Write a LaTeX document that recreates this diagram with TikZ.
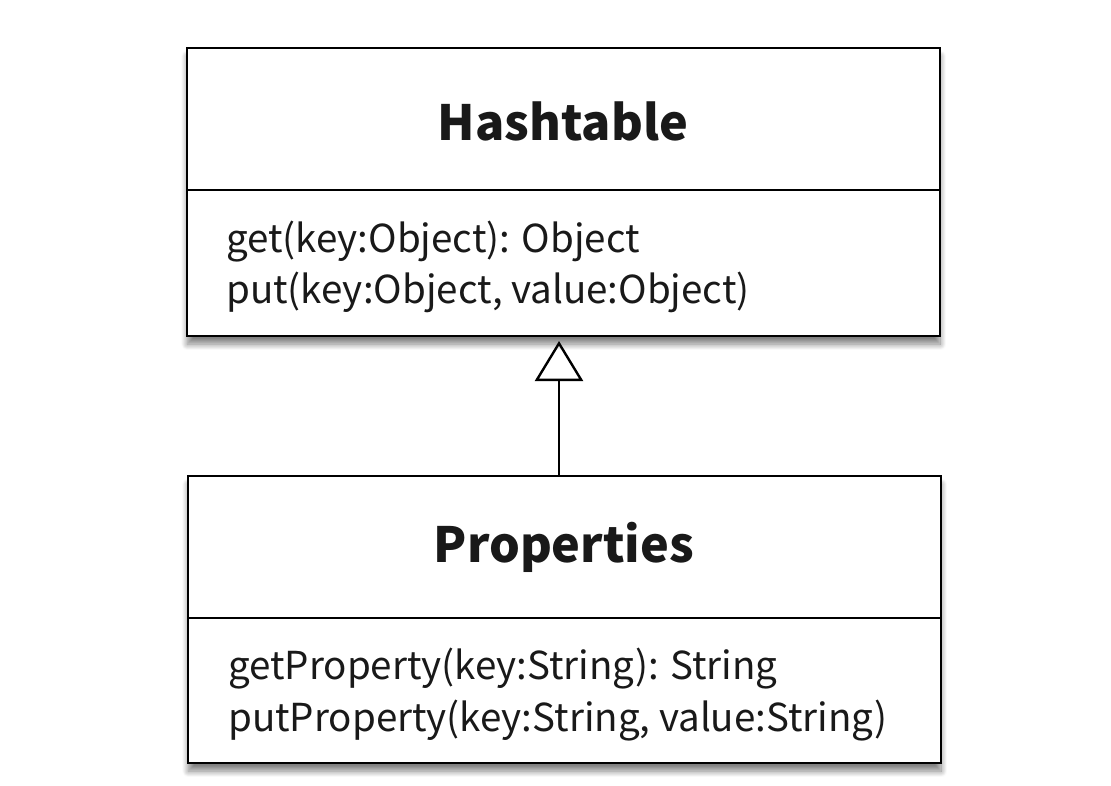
\documentclass[tikz,border=0pt]{standalone}
\usepackage{fontspec}
\setmainfont{Noto Sans CJK KR}
\usetikzlibrary{shadows.blur,arrows.meta}
\tikzset{
  classbox/.style={draw=black, line width=2.4pt, fill=white,
    blur shadow={shadow xshift=0pt, shadow yshift=-8pt, shadow blur steps=12, shadow blur radius=6pt, shadow blur extra rounding=0pt, shadow opacity=50}},
  divider/.style={draw=black, line width=2.2pt},
  titletext/.style={font=\fontsize{48.5}{54}\selectfont\bfseries, text=black!90, inner sep=0pt},
  methodtext/.style={font=\fontsize{38.5}{44}\selectfont, text=black!90, inner sep=0pt, anchor=base west},
  inherit/.style={draw=black, line width=2.4pt, -{Triangle[open, length=40pt, width=48pt, line width=2.4pt]}}
}
\begin{document}
\begin{tikzpicture}[x=1pt,y=-1pt]
\useasboundingbox (0,0) rectangle (1111,786);
% Hashtable
\node[classbox, minimum width=753pt, minimum height=288pt, anchor=north west, inner sep=0pt] (hbox) at (186,47) {};
\draw[divider] (186,190) coordinate (hdl) -- (939,190) coordinate (hdr);
\node[titletext] (htitle) at (563,121) {Hashtable};
\node[methodtext] (hm1) at (226,253) {get(key:Object): Object};
\node[methodtext] (hm2) at (226,304) {put(key:Object, value:Object)};
% Properties
\node[classbox, minimum width=753pt, minimum height=287pt, anchor=north west, inner sep=0pt] (pbox) at (187,475) {};
\draw[divider] (187,618) coordinate (pdl) -- (940,618) coordinate (pdr);
\node[titletext] (ptitle) at (564,547) {Properties};
\node[methodtext] (pm1) at (228,679) {getProperty(key:String): String};
\node[methodtext] (pm2) at (228,731) {putProperty(key:String, value:String)};
% inheritance
\draw[inherit] (pbox.north -| 559,0) -- (559,341) coordinate (tip);
\end{tikzpicture}
\end{document}
